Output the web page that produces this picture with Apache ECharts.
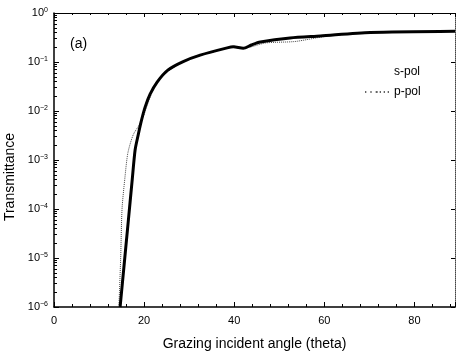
<!DOCTYPE html>
<html>
<head>
<meta charset="utf-8">
<script src="https://cdn.jsdelivr.net/npm/echarts@6/dist/echarts.min.js"></script>
<style>html,body{margin:0;padding:0;background:#fff}#c{width:456px;height:352px}</style>
</head>
<body>
<div id="c"></div>
<script>
// Data
const sAngle = [14.67, 15.56, 16.44, 17.33, 18.0, 18.67, 19.33, 20.22, 21.33, 22.89, 25.33, 28.67, 32.44, 38.44, 39.8, 42.0, 43.8, 45.8, 52.4, 59.1, 70.2, 89];
const sPol   = [1e-6, 7.2e-6, 5.1e-5, 3.7e-4, 1.6e-3, 3.2e-3, 6.0e-3, 0.012, 0.022, 0.039, 0.069, 0.102, 0.138, 0.194, 0.204, 0.190, 0.222, 0.255, 0.310, 0.340, 0.400, 0.425];
const pAngle = [14.4, 14.8, 15.1, 15.7, 16.4, 17.6, 19.33, 22.89, 28.67, 38.44, 40.0, 42.0, 47.0, 53.5, 60.0, 70.2, 89];
const pPol   = [1e-6, 1e-5, 1.0e-4, 4.0e-4, 1.4e-3, 3.3e-3, 6.0e-3, 0.039, 0.102, 0.194, 0.210, 0.190, 0.245, 0.262, 0.330, 0.400, 0.425];
const xTicks = [0, 20, 40, 60, 80];
const yDecades = [-6, -5, -4, -3, -2, -1, 0];

const minorVals = [];
for (let k = -6; k < 0; k++) for (let m = 2; m <= 9; m++) minorVals.push(m * Math.pow(10, k));

const FONT = '"Liberation Sans", Arial, sans-serif';
const chart = echarts.init(document.getElementById('c'), null, {renderer: 'canvas'});
const yBase = {type: 'log', logBase: 10, min: 1e-6, max: 1, gridIndex: 0};
chart.setOption({
  animation: false,
  backgroundColor: '#fff',
  grid: {left: 54, right: 1, top: 13, bottom: 45, containLabel: false, outerBoundsMode: 'none'},
  legend: {
    orient: 'vertical', left: 360, top: 61, itemGap: 8, itemWidth: 24, itemHeight: 10,
    textStyle: {fontFamily: FONT, fontSize: 12, color: '#000'},
    data: [
      {name: 's-pol', icon: 'none'},
      {name: 'p-pol', icon: 'path://M0,0h1v1h-1z M4,0h1v1h-1z M8,0h1.5v1h-1.5z M11,0h1v1h-1z M14,0h1v1h-1z M17,0h1v1h-1z',
       itemStyle: {color: '#333'}}
    ]
  },
  xAxis: [
    {type: 'value', min: 0, max: 89, interval: 20,
     axisLine: {lineStyle: {color: '#000', width: 1.5}},
     axisTick: {inside: true, length: 5, lineStyle: {color: '#000'}},
     minorTick: {show: true, splitNumber: 5, length: 3, lineStyle: {color: '#000'}},
     axisLabel: {fontFamily: FONT, fontSize: 11, color: '#000', margin: 8,
       customValues: xTicks},
     splitLine: {show: false},
     name: 'Grazing incident angle (theta)', nameLocation: 'middle', nameGap: 30,
     nameTextStyle: {fontFamily: FONT, fontSize: 14, color: '#000'}},
    {type: 'value', min: 0, max: 89, interval: 20, position: 'top',
     axisLine: {lineStyle: {color: '#000', width: 1.2}},
     axisTick: {inside: true, length: 4, lineStyle: {color: '#000'}},
     minorTick: {show: true, splitNumber: 5, length: 2, lineStyle: {color: '#000'}},
     axisLabel: {show: false}, splitLine: {show: false}}
  ],
  yAxis: [
    Object.assign({}, yBase, {
      position: 'left',
      axisLine: {show: true, lineStyle: {color: '#000', width: 1.5}},
      axisTick: {inside: true, length: 5, lineStyle: {color: '#000'}},
      axisLabel: {
        margin: 6, color: '#000', fontFamily: FONT,
        customValues: yDecades.map(e => Math.pow(10, e)),
        formatter: v => {
          const e = Math.round(Math.log10(v));
          return '{b|10}{s|' + (e === 0 ? '0' : String(e).replace('-', '\u2212')) + '}';
        },
        rich: {
          b: {fontFamily: FONT, fontSize: 11, color: '#000'},
          s: {fontFamily: FONT, fontSize: 7, color: '#000', verticalAlign: 'top', padding: [0, 0, 6, 0]}
        }
      },
      splitLine: {show: false},
      name: 'Transmittance', nameLocation: 'middle', nameGap: 32,
      nameTextStyle: {fontFamily: FONT, fontSize: 14, color: '#000', padding: [0, 34, 0, 0]}
    }),
    Object.assign({}, yBase, {
      position: 'left',
      axisLine: {show: false},
      axisTick: {inside: true, length: 3, customValues: minorVals, lineStyle: {color: '#000'}},
      axisLabel: {show: false}, splitLine: {show: false}
    }),
    Object.assign({}, yBase, {
      position: 'right',
      axisLine: {show: true, lineStyle: {color: '#444', width: 1, type: 'dotted'}},
      axisTick: {inside: true, length: 4, lineStyle: {color: '#000'}},
      axisLabel: {show: false}, splitLine: {show: false}
    })
  ],
  graphic: [
    {type: 'text', left: 70, top: 37, style: {text: '(a)', fontFamily: FONT, fontSize: 14, fill: '#000'}}
  ],
  series: [
    {name: 's-pol', type: 'line', xAxisIndex: 0, yAxisIndex: 0, z: 3,
     data: sAngle.map((a, i) => [a, sPol[i]]),
     showSymbol: false, symbol: 'none', smooth: 0.25,
     lineStyle: {color: '#000', width: 3}, itemStyle: {color: '#000'}},
    {name: 'p-pol', type: 'line', xAxisIndex: 0, yAxisIndex: 0, z: 2,
     data: pAngle.map((a, i) => [a, pPol[i]]),
     showSymbol: false, symbol: 'none', smooth: 0.25,
     lineStyle: {color: '#444', width: 1, type: 'dotted'}, itemStyle: {color: '#444'}}
  ]
});
</script>
</body>
</html>
